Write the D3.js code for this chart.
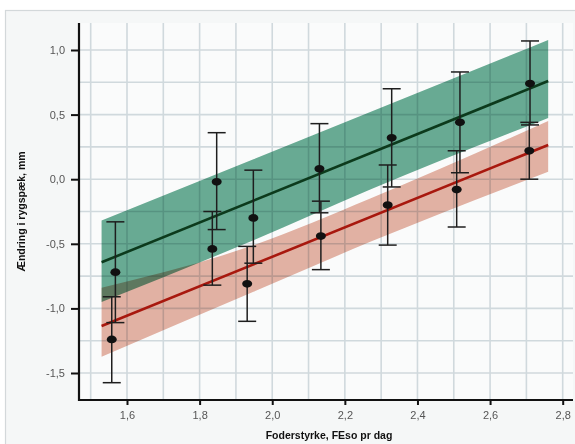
<!DOCTYPE html>
<html>
<head>
<meta charset="utf-8">
<script src="https://cdn.jsdelivr.net/npm/d3@7"></script>
<style>
  html, body { margin: 0; padding: 0; background: #ffffff; }
  svg { display: block; }
  text { font-family: "Liberation Sans", Arial, sans-serif; }
</style>
</head>
<body>
<svg id="chart" width="575" height="444"></svg>
<script>
// ---- data ----
const xTicks = [1.6, 1.8, 2.0, 2.2, 2.4, 2.6, 2.8];
const xTickLabels = ["1,6", "1,8", "2,0", "2,2", "2,4", "2,6", "2,8"];
const yTicks = [-1.5, -1.0, -0.5, 0.0, 0.5, 1.0];
const yTickLabels = ["-1,5", "-1,0", "-0,5", "0,0", "0,5", "1,0"];
const xGrid = [1.5, 1.6, 1.7, 1.8, 1.9, 2.0, 2.1, 2.2, 2.3, 2.4, 2.5, 2.6, 2.7, 2.8];
const yGrid = [-1.5, -1.25, -1.0, -0.75, -0.5, -0.25, 0.0, 0.25, 0.5, 0.75, 1.0];

const greenX  = [1.568, 1.847, 1.948, 2.130, 2.329, 2.517, 2.710];
const greenY  = [-0.72, -0.02, -0.30, 0.08, 0.32, 0.44, 0.74];
const greenLo = [-1.11, -0.39, -0.65, -0.26, -0.06, 0.05, 0.42];
const greenHi = [-0.33, 0.36, 0.07, 0.43, 0.70, 0.83, 1.07];

const redX  = [1.558, 1.835, 1.931, 2.134, 2.318, 2.508, 2.708];
const redY  = [-1.24, -0.54, -0.81, -0.44, -0.20, -0.08, 0.22];
const redLo = [-1.575, -0.82, -1.10, -0.70, -0.51, -0.37, 0.00];
const redHi = [-0.91, -0.25, -0.52, -0.17, 0.11, 0.22, 0.44];

const fitX = [1.53, 2.76];
const greenFit = [-0.643, 0.76];
const redFit = [-1.136, 0.265];

const bandX = [1.53, 1.95, 2.27, 2.76];
const greenUpper = [-0.32, 0.157, 0.52, 1.077];
const greenLower = [-0.95, -0.47, -0.08, 0.474];
const redUpper = [-0.84, -0.51, -0.15, 0.45];
const redLower = [-1.374, -0.87, -0.485, 0.058];

const xTitle = "Foderstyrke, FEso pr dag";
const yTitle = "Ændring i rygspæk, mm";

// ---- scales ----
const x = d3.scaleLinear().domain([1.6, 2.8]).range([127, 562.7]);
const y = d3.scaleLinear().domain([1.0, -1.5]).range([50, 373]);
const plotL = 79, plotR = 573, plotT = 23, plotB = 400;

const svg = d3.select("#chart");

// frame
svg.append("rect").attr("x", 5.5).attr("y", 10.5).attr("width", 620).attr("height", 500)
  .attr("fill", "#f5f7f7").attr("stroke", "#d3d8da").attr("stroke-width", 1.2);
svg.append("rect").attr("x", plotL).attr("y", plotT).attr("width", plotR - plotL).attr("height", plotB - plotT)
  .attr("fill", "#fafbfb");

// grid
const grid = svg.append("g").attr("stroke", "#d0d9dd").attr("stroke-width", 1.6);
grid.selectAll("line.v").data(xGrid).join("line")
  .attr("x1", d => x(d)).attr("x2", d => x(d)).attr("y1", plotT).attr("y2", plotB);
grid.selectAll("line.h").data(yGrid).join("line")
  .attr("x1", plotL).attr("x2", plotR).attr("y1", d => y(d)).attr("y2", d => y(d));

// bands
function bandData(xs, lo, hi) { return xs.map((v, i) => ({ x: v, lo: lo[i], hi: hi[i] })); }
const area = d3.area().x(d => x(d.x)).y0(d => y(d.lo)).y1(d => y(d.hi)).curve(d3.curveMonotoneX);
const bands = svg.append("g");
bands.append("path").datum(bandData(bandX, redLower, redUpper)).attr("d", area)
  .attr("fill", "#e6b4a6").style("mix-blend-mode", "multiply");
bands.append("path").datum(bandData(bandX, greenLower, greenUpper)).attr("d", area)
  .attr("fill", "#6aad95").style("mix-blend-mode", "multiply");

// fit lines
const line = d3.line().x(d => x(d.x)).y(d => y(d.y));
svg.append("path").datum(fitX.map((v, i) => ({ x: v, y: greenFit[i] }))).attr("d", line)
  .attr("fill", "none").attr("stroke", "#0c3a1c").attr("stroke-width", 2.6);
svg.append("path").datum(fitX.map((v, i) => ({ x: v, y: redFit[i] }))).attr("d", line)
  .attr("fill", "none").attr("stroke", "#a8180e").attr("stroke-width", 2.6);

// error bars + points
function drawSeries(xs, ys, lo, hi) {
  const data = xs.map((v, i) => ({ x: v, y: ys[i], lo: lo[i], hi: hi[i] }));
  const g = svg.append("g").attr("stroke", "#1e1e1e").attr("stroke-width", 1.5);
  g.selectAll("line.bar").data(data).join("line")
    .attr("x1", d => x(d.x)).attr("x2", d => x(d.x)).attr("y1", d => y(d.lo)).attr("y2", d => y(d.hi));
  g.selectAll("line.capTop").data(data).join("line")
    .attr("x1", d => x(d.x) - 9).attr("x2", d => x(d.x) + 9).attr("y1", d => y(d.hi)).attr("y2", d => y(d.hi));
  g.selectAll("line.capBot").data(data).join("line")
    .attr("x1", d => x(d.x) - 9).attr("x2", d => x(d.x) + 9).attr("y1", d => y(d.lo)).attr("y2", d => y(d.lo));
  return data;
}
const gd = drawSeries(greenX, greenY, greenLo, greenHi);
const rd = drawSeries(redX, redY, redLo, redHi);
svg.append("g").selectAll("ellipse").data(gd.concat(rd)).join("ellipse")
  .attr("cx", d => x(d.x)).attr("cy", d => y(d.y)).attr("rx", 5).attr("ry", 3.9).attr("fill", "#111");

// axes
const yAxis = d3.axisLeft(y).tickValues(yTicks).tickSize(8).tickPadding(6)
  .tickFormat((d, i) => yTickLabels[i]);
const yg = svg.append("g").attr("transform", `translate(${plotL},0)`).call(yAxis);
yg.select(".domain").remove();
yg.selectAll(".tick line").attr("stroke", "#111").attr("stroke-width", 2);
yg.selectAll(".tick text").attr("fill", "#555").attr("font-size", 11).attr("font-family", "Liberation Sans, Arial, sans-serif");

const xAxis = d3.axisBottom(x).tickValues(xTicks).tickSize(5).tickPadding(6)
  .tickFormat((d, i) => xTickLabels[i]);
const xg = svg.append("g").attr("transform", `translate(0,${plotB})`).call(xAxis);
xg.select(".domain").remove();
xg.selectAll(".tick line").attr("stroke", "#111").attr("stroke-width", 2);
xg.selectAll(".tick text").attr("fill", "#555").attr("font-size", 11).attr("font-family", "Liberation Sans, Arial, sans-serif");

svg.append("line").attr("x1", plotL).attr("x2", plotL).attr("y1", plotT).attr("y2", plotB + 1)
  .attr("stroke", "#111").attr("stroke-width", 2.2);
svg.append("line").attr("x1", plotL - 1).attr("x2", plotR).attr("y1", plotB).attr("y2", plotB)
  .attr("stroke", "#111").attr("stroke-width", 2.2);

// titles
svg.append("text").attr("x", (plotL + plotR) / 2 + 3).attr("y", 439).attr("text-anchor", "middle")
  .attr("font-size", 10.5).attr("font-weight", "bold").attr("fill", "#111").text(xTitle);
svg.append("text").attr("transform", `translate(25,${(plotT + plotB) / 2}) rotate(-90)`)
  .attr("text-anchor", "middle").attr("font-size", 10.5).attr("font-weight", "bold").attr("fill", "#111").text(yTitle);
</script>
</body>
</html>
